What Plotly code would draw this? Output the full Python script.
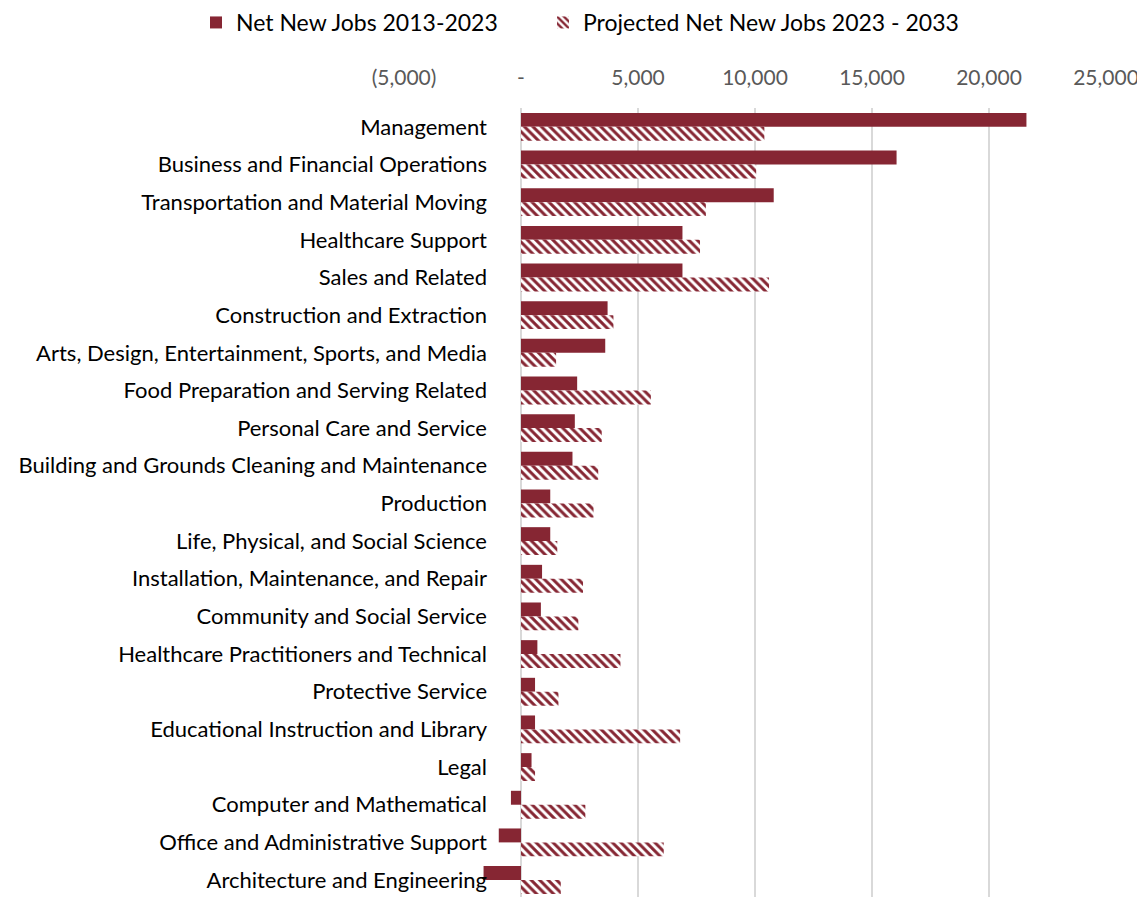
import plotly.graph_objects as go

CATEGORIES = [
    "Management",
    "Business and Financial Operations",
    "Transportation and Material Moving",
    "Healthcare Support",
    "Sales and Related",
    "Construction and Extraction",
    "Arts, Design, Entertainment, Sports, and Media",
    "Food Preparation and Serving Related",
    "Personal Care and Service",
    "Building and Grounds Cleaning and Maintenance",
    "Production",
    "Life, Physical, and Social Science",
    "Installation, Maintenance, and Repair",
    "Community and Social Service",
    "Healthcare Practitioners and Technical",
    "Protective Service",
    "Educational Instruction and Library",
    "Legal",
    "Computer and Mathematical",
    "Office and Administrative Support",
    "Architecture and Engineering",
]

NET_2013_2023 = [
    21600, 16050, 10800, 6900, 6900, 3700, 3600, 2400, 2300, 2200, 1250,
    1250, 900, 850, 700, 600, 600, 450, -430, -950, -1600,
]

PROJ_2023_2033 = [
    10400, 10050, 7900, 7650, 10600, 3950, 1500, 5550, 3450, 3300, 3100,
    1550, 2650, 2450, 4250, 1600, 6800, 600, 2750, 6100, 1700,
]

TICK_VALS = [-5000, 0, 5000, 10000, 15000, 20000, 25000]
TICK_TEXT = ["(5,000)", "-", "5,000", "10,000", "15,000", "20,000", "25,000"]

MAROON = "#862633"
FONT = "Lato"
# the page body adds an 8px margin, so the figure is drawn 8px in from the corner
OFF = 8
W, H = 1145 - OFF, 897 - OFF
ML, MR, MT, MB = 0, 1145 - 1106, 108 - OFF, 0

fig = go.Figure()
fig.add_trace(go.Bar(
    y=CATEGORIES, x=NET_2013_2023, orientation="h",
    name="Net New Jobs 2013-2023",
    marker=dict(color=MAROON, line=dict(width=0)),
    legend="legend",
))
fig.add_trace(go.Bar(
    y=CATEGORIES, x=PROJ_2023_2033, orientation="h",
    name="Projected Net New Jobs 2023 - 2033",
    marker=dict(
        color=MAROON,
        line=dict(width=0),
        pattern=dict(shape="\\", fgcolor=MAROON, bgcolor="white",
                     size=6, solidity=0.5, fillmode="replace"),
    ),
    legend="legend2",
))

paper_w = W - ML - MR
plot_h = H - MT - MB
legend_style = dict(
    orientation="h", xanchor="left",
    y=1 + (MT + 7) / plot_h, yanchor="top",
    font=dict(size=23, color="#000000"),
)
fig.update_layout(
    width=W, height=H,
    margin=dict(l=ML, r=MR, t=MT, b=MB, autoexpand=False),
    plot_bgcolor="white", paper_bgcolor="white",
    font=dict(family=FONT, color="#000000"),
    barmode="group", bargap=0.26, bargroupgap=0,
    showlegend=True,
    legend=dict(x=(196 - OFF) / paper_w, **legend_style),
    legend2=dict(x=(543 - OFF) / paper_w, **legend_style),
    xaxis=dict(
        side="top", range=[-5000, 25000],
        domain=[(404 - OFF) / paper_w, 1],
        tickvals=TICK_VALS, ticktext=TICK_TEXT,
        tickfont=dict(size=21, color="#595959"),
        showgrid=True, gridcolor="#d9d9d9", gridwidth=2,
        zeroline=True, zerolinecolor="#d9d9d9", zerolinewidth=2,
        showline=False, ticks="", ticklabelstandoff=18,
        automargin=False,
    ),
    yaxis=dict(
        anchor="free", position=(521 - OFF) / paper_w,
        range=[20.45, -0.5],
        tickfont=dict(size=22, color="#000000"),
        showgrid=False, zeroline=False, showline=False,
        ticks="", ticklabelstandoff=34,
        automargin=False,
    ),
)

fig.write_html("out.html")
